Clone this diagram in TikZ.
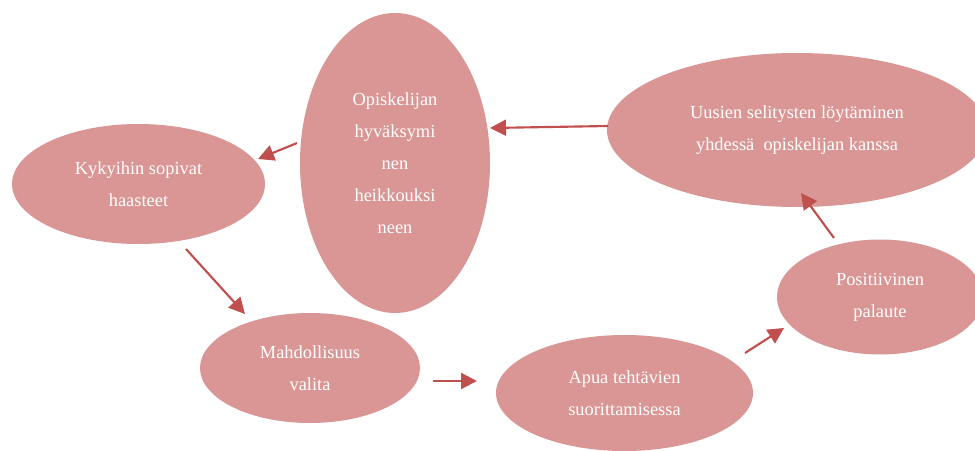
\documentclass[tikz,border=0pt]{standalone}
\usepackage{fontspec}
\setmainfont{Liberation Serif}
\usetikzlibrary{shapes.geometric,arrows.meta}
\definecolor{ellfill}{HTML}{D99694}
\definecolor{arr}{HTML}{C0504D}
\tikzset{
  ell/.style 2 args={ellipse, fill=ellfill, draw=none, inner sep=0pt,
    minimum width={#1*1.5pt}, minimum height={#2*1.5pt},
    text=white, align=center, font=\fontsize{13.8}{24}\selectfont},
  conn/.style={draw=arr, line width=1.6pt, -{Triangle[length=12pt,width=12pt]}}
}
\begin{document}
\begin{tikzpicture}[x=0.75pt,y=-0.75pt]
\clip (0,0) rectangle (975,450);
\useasboundingbox (0,0) rectangle (975,450);
\node[ell={95}{150}] (acc) at (395,163) {Opiskelijan\\hyväksymi\\nen\\heikkouksi\\neen};
\node[ell={190}{77}] (new) at (797,130) {Uusien selitysten löytäminen\\yhdessä\ \ opiskelijan kanssa};
\node[ell={126.5}{60}] (kyk) at (138.5,184) {Kykyihin sopivat\\haasteet};
\node[ell={110}{55}] (mah) at (310,368) {Mahdollisuus\\valita};
\node[ell={128.5}{58}] (apu) at (624.5,393) {Apua tehtävien\\suorittamisessa};
\node[ell={103}{57.5}] (pos) at (880,297) {Positiivinen\\palaute};
\coordinate (a1s) at (608,126); \coordinate (a1e) at (490,128);
\coordinate (a2s) at (297,143); \coordinate (a2e) at (258,159);
\coordinate (a3s) at (186,249); \coordinate (a3e) at (245,314);
\coordinate (a4s) at (433,381); \coordinate (a4e) at (477,381);
\coordinate (a5s) at (745,353); \coordinate (a5e) at (784,328);
\coordinate (a6s) at (834,238); \coordinate (a6e) at (801,193);
\draw[conn] (a1s) -- (a1e);
\draw[conn] (a2s) -- (a2e);
\draw[conn] (a3s) -- (a3e);
\draw[conn] (a4s) -- (a4e);
\draw[conn] (a5s) -- (a5e);
\draw[conn] (a6s) -- (a6e);
\end{tikzpicture}
\end{document}
